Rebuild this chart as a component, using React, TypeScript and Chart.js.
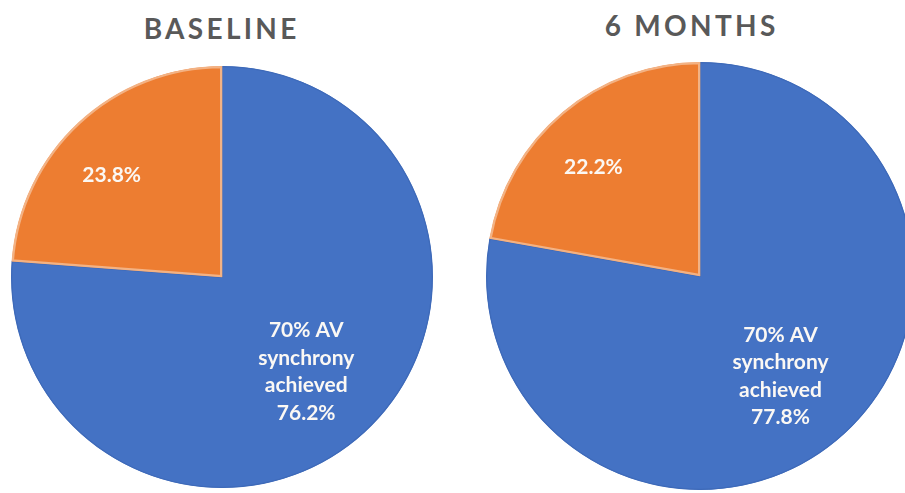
import React, { useEffect, useRef } from "react";
import { Chart, registerables } from "chart.js";

Chart.register(...registerables);

// Share of patients reaching at least 70% AV synchrony, per follow-up visit
const categories = ["70% AV synchrony achieved", "Below 70% AV synchrony"];
const panelTitles = ["BASELINE", "6 MONTHS"];
const baselineValues = [76.2, 23.8];
const sixMonthValues = [77.8, 22.2];
const achievedLabelLines = ["70% AV", "synchrony", "achieved"];

const sliceColors = ["#4472C4", "#ED7D31"];
const sliceBorders = ["#3E6AB9", "#F3B284"];
const labelColor = "#FBF8F4";
const titleColor = "#595959";

// Writes each slice's percentage inside the slice, near its bisector
const sliceLabels = {
  id: "sliceLabels",
  afterDatasetsDraw(chart: any) {
    const ctx = chart.ctx as CanvasRenderingContext2D;
    const meta = chart.getDatasetMeta(0);
    const values = chart.data.datasets[0].data as number[];
    ctx.save();
    ctx.font = "bold 21px Lato, 'Open Sans', sans-serif";
    ctx.fillStyle = labelColor;
    ctx.textAlign = "center";
    ctx.textBaseline = "middle";
    meta.data.forEach((arc: any, i: number) => {
      const { x, y, startAngle, endAngle, outerRadius } = arc.getProps(
        ["x", "y", "startAngle", "endAngle", "outerRadius"],
        true
      );
      // the small slice's label leans slightly toward its leading edge
      const mid = (startAngle + endAngle) / 2 + (i === 0 ? 0.02 : -0.08);
      const dist = outerRadius * (i === 0 ? 0.6 : 0.71);
      const lx = x + Math.cos(mid) * dist;
      const ly = y + Math.sin(mid) * dist;
      const lines =
        i === 0 ? [...achievedLabelLines, `${values[i]}%`] : [`${values[i]}%`];
      const lineHeight = 27.5;
      lines.forEach((line, k) => {
        ctx.fillText(line, lx, ly + (k - (lines.length - 1) / 2) * lineHeight);
      });
    });
    ctx.restore();
  },
};

type PieProps = {
  title: string;
  values: number[];
  cx: number;
  cy: number;
  radius: number;
  titleX: number;
  titleY: number;
};

function VisitPie({ title, values, cx, cy, radius, titleX, titleY }: PieProps) {
  const ref = useRef<HTMLCanvasElement>(null);
  const size = 2 * radius + 12;

  useEffect(() => {
    const chart = new Chart(ref.current!, {
      type: "pie",
      data: {
        labels: categories,
        datasets: [
          {
            data: values,
            backgroundColor: sliceColors,
            borderColor: sliceBorders,
            borderWidth: [1, 2],
            borderAlign: "inner",
            radius,
          } as any,
        ],
      },
      options: {
        responsive: false,
        maintainAspectRatio: false,
        animation: false,
        devicePixelRatio: 1,
        layout: { padding: 0 },
        plugins: {
          legend: { display: false },
          tooltip: { enabled: false },
          title: { display: false },
        },
      },
      plugins: [sliceLabels],
    });
    return () => chart.destroy();
  }, []);

  return (
    <>
      <div
        style={{
          position: "absolute",
          left: titleX - 150,
          top: titleY - 17,
          width: 300,
          height: 34,
          lineHeight: "34px",
          textAlign: "center",
          font: "bold 28px Lato, 'Open Sans', sans-serif",
          letterSpacing: "3.3px",
          paddingLeft: "3.3px",
          boxSizing: "border-box",
          color: titleColor,
          whiteSpace: "nowrap",
        }}
      >
        {title}
      </div>
      <canvas
        ref={ref}
        width={size}
        height={size}
        style={{
          position: "absolute",
          left: cx - size / 2,
          top: cy - size / 2,
          width: size,
          height: size,
        }}
      />
    </>
  );
}

export default function App() {
  return (
    <div
      style={{
        position: "absolute",
        left: 0,
        top: 0,
        width: 905,
        height: 493,
        overflow: "hidden",
        background: "#ffffff",
      }}
    >
      <VisitPie
        title={panelTitles[0]}
        values={baselineValues}
        cx={222}
        cy={277}
        radius={211}
        titleX={220}
        titleY={28}
      />
      <VisitPie
        title={panelTitles[1]}
        values={sixMonthValues}
        cx={700}
        cy={276}
        radius={214}
        titleX={690}
        titleY={25}
      />
    </div>
  );
}
